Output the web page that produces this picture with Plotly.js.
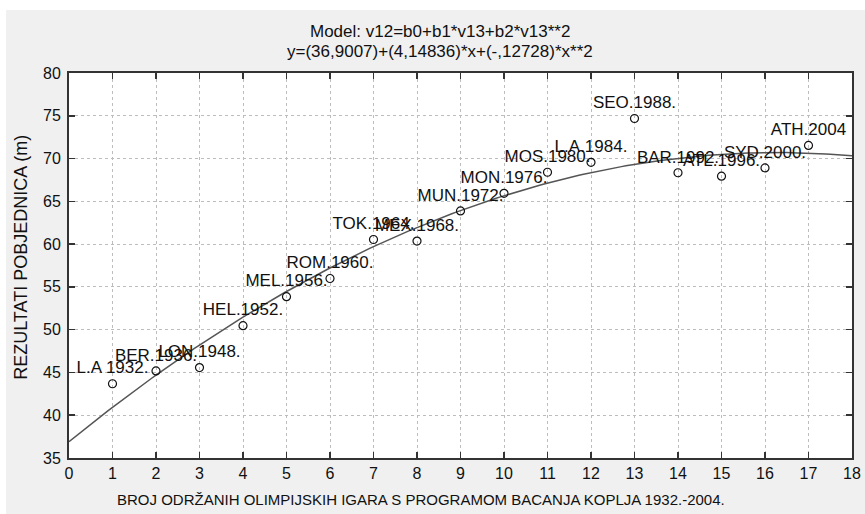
<!DOCTYPE html>
<html>
<head>
<meta charset="utf-8">
<script src="https://cdn.plot.ly/plotly-3.0.1.min.js"></script>
<style>
  html, body { margin: 0; padding: 0; background: #ffffff; width: 865px; height: 514px; overflow: hidden; }
  #chart { position: absolute; left: 6px; top: 10px; width: 859px; height: 504px; }
</style>
</head>
<body>
<div id="chart"></div>
<script>
// Olympic index (1..17) and winning results (m)
const games = [1, 2, 3, 4, 5, 6, 7, 8, 9, 10, 11, 12, 13, 14, 15, 16, 17];
const results = [43.68, 45.18, 45.57, 50.47, 53.86, 55.98, 60.54, 60.36, 63.88, 65.94, 68.40, 69.56, 74.68, 68.34, 67.94, 68.91, 71.53];
const labels = ["L.A 1932.", "BER.1936.", "LON.1948.", "HEL.1952.", "MEL.1956.", "ROM.1960.", "TOK.1964.", "MEX.1968.", "MUN.1972.", "MON.1976.", "MOS.1980.", "L.A.1984.", "SEO.1988.", "BAR.1992.", "ATL.1996.", "SYD.2000.", "ATH.2004"];
// Fitted model coefficients from the title: y = b0 + b1*x + b2*x^2
const coef = [36.9007, 4.14836, -0.12728];
const xTicks = [0, 1, 2, 3, 4, 5, 6, 7, 8, 9, 10, 11, 12, 13, 14, 15, 16, 17, 18];
const yTicks = [35, 40, 45, 50, 55, 60, 65, 70, 75, 80];
const titleLines = ["Model: v12=b0+b1*v13+b2*v13**2", "y=(36,9007)+(4,14836)*x+(-,12728)*x**2"];
const xTitle = "BROJ ODRŽANIH OLIMPIJSKIH IGARA S PROGRAMOM BACANJA KOPLJA 1932.-2004.";
const yTitle = "REZULTATI POBJEDNICA (m)";

const fitX = [];
const fitY = [];
for (let i = 0; i <= 180; i++) {
  const x = i / 10;
  fitX.push(x);
  fitY.push(coef[0] + coef[1] * x + coef[2] * x * x);
}

const font = "Liberation Sans, Arial, sans-serif";
const ink = "#111111";

const traces = [
  {
    x: fitX, y: fitY, type: "scatter", mode: "lines",
    line: { color: "#555555", width: 1.5 },
    hoverinfo: "skip", showlegend: false
  },
  {
    x: games, y: results, type: "scatter", mode: "markers+text",
    text: labels, textposition: "top center",
    textfont: { family: font, size: 17, color: ink },
    marker: { symbol: "circle-open", size: 8, color: ink, line: { width: 1.2 } },
    cliponaxis: false, showlegend: false
  }
];

const axisCommon = {
  showline: true, mirror: "ticks", linecolor: "#333333", linewidth: 2,
  ticks: "inside", ticklen: 6, tickcolor: "#333333", tickwidth: 1.5,
  showgrid: true, gridcolor: "#bdbdbd", griddash: "dot", gridwidth: 1,
  zeroline: false,
  tickfont: { family: font, size: 16, color: ink }
};

const layout = {
  width: 859, height: 504,
  paper_bgcolor: "#f0f0f0", plot_bgcolor: "#ffffff",
  margin: { l: 63, r: 13, t: 63, b: 56 },
  xaxis: Object.assign({}, axisCommon, {
    range: [0, 18], tickvals: xTicks, ticktext: xTicks.map(String)
  }),
  yaxis: Object.assign({}, axisCommon, {
    range: [35, 80], tickvals: yTicks, ticktext: yTicks.map(String),
    ticklabelstandoff: 3
  }),
  annotations: [
    { text: titleLines[0], xref: "paper", yref: "paper", x: 0.474, y: 1.1065, xanchor: "center", yanchor: "middle", showarrow: false, font: { family: font, size: 17, color: ink } },
    { text: titleLines[1], xref: "paper", yref: "paper", x: 0.474, y: 1.0571, xanchor: "center", yanchor: "middle", showarrow: false, font: { family: font, size: 17, color: ink } },
    { text: xTitle, xref: "paper", yref: "paper", x: 0.45, y: -0.109, xanchor: "center", yanchor: "middle", showarrow: false, font: { family: font, size: 15, color: ink } },
    { text: yTitle, xref: "paper", yref: "paper", x: -0.0613, y: 0.52, xanchor: "center", yanchor: "middle", textangle: -90, showarrow: false, font: { family: font, size: 18, color: ink } }
  ]
};

Plotly.newPlot("chart", traces, layout, { displayModeBar: false, staticPlot: true });
</script>
</body>
</html>
